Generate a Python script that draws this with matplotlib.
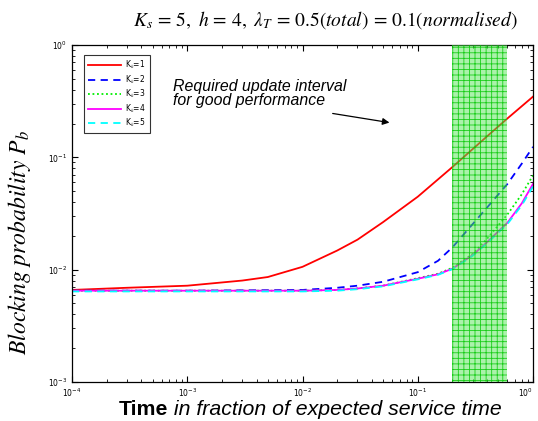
import matplotlib
matplotlib.use("Agg")
import matplotlib.pyplot as plt
import numpy as np

# Data
t_red = [1e-4, 3e-4, 1e-3, 3e-3, 5e-3, 1e-2, 2e-2, 3e-2, 5e-2, 0.1, 0.2, 0.4, 0.6, 1.0]
pb_k1 = [0.0066, 0.0069, 0.0072, 0.0080, 0.0086, 0.0106, 0.0148, 0.0185, 0.0265, 0.0446, 0.082, 0.154, 0.222, 0.347]

t = [1e-4, 1e-3, 1e-2, 2e-2, 3e-2, 5e-2, 0.1, 0.15, 0.2, 0.3, 0.4, 0.6, 0.8, 1.0]
pb_k2 = [0.0065, 0.0065, 0.0066, 0.0069, 0.0072, 0.0078, 0.0095, 0.0120, 0.0158, 0.0255, 0.0358, 0.058, 0.088, 0.124]
pb_k3 = [0.0065, 0.0065, 0.0065, 0.0066, 0.0068, 0.0072, 0.0084, 0.0092, 0.0104, 0.0138, 0.0189, 0.031, 0.047, 0.069]
pb_k4 = [0.0065, 0.0065, 0.0065, 0.0066, 0.0068, 0.0072, 0.0083, 0.0091, 0.0102, 0.0135, 0.0176, 0.0262, 0.039, 0.058]
pb_k5 = [0.0064, 0.0064, 0.0064, 0.0065, 0.0067, 0.0071, 0.0082, 0.0090, 0.0101, 0.0133, 0.0172, 0.0255, 0.0375, 0.055]

labels = [r"K$_k$=1", r"K$_k$=2", r"K$_k$=3", r"K$_k$=4", r"K$_k$=5"]
span = (0.2, 0.6)

plt.rcParams['mathtext.fontset'] = 'stix'
plt.rcParams['hatch.linewidth'] = 0.6

fig = plt.figure(figsize=(5.38, 4.21), dpi=100)
ax = fig.add_axes([72/538, 1-382/421, (533-72)/538, (382-45)/421])

ax.plot(t_red, pb_k1, color='#ff0000', lw=1.3, ls='-', label=labels[0])
ax.plot(t, pb_k2, color='#0000ff', lw=1.3, ls=(0, (4, 3)), label=labels[1])
ax.plot(t, pb_k3, color='#00ee00', lw=1.3, ls=(0, (1, 1.5)), label=labels[2])
ax.plot(t, pb_k4, color='#ff00ff', lw=1.3, ls='-', label=labels[3])
ax.plot(t, pb_k5, color='#00ffff', lw=1.3, ls=(0, (4, 3)), label=labels[4])

ax.axvspan(span[0], span[1], facecolor=(0.35, 0.9, 0.35, 0.5), edgecolor=(0.0, 0.78, 0.0, 0.85),
           hatch='+++', lw=0, zorder=5)

ax.set_xscale('log')
ax.set_yscale('log')
ax.set_xlim(1e-4, 1)
ax.set_ylim(1e-3, 1)
ax.tick_params(which='both', direction='in', top=True, right=True, labelsize=5.5)
ax.tick_params(which='major', length=4)
ax.tick_params(which='minor', length=2)
for s in ax.spines.values():
    s.set_linewidth(0.9)

leg = ax.legend(loc='upper left', bbox_to_anchor=(0.026, 0.970), fontsize=5.5, frameon=True,
                fancybox=False, edgecolor='black', handlelength=4.3, borderpad=0.5,
                labelspacing=0.3, handletextpad=0.6, borderaxespad=0)
leg.get_frame().set_linewidth(0.8)

ax.text(7.5e-4, 0.50, "Required update interval\nfor good performance", fontsize=11.4,
        style='italic', family='Liberation Sans', ha='left', va='top', linespacing=0.95)
ax.annotate("", xy=(0.06, 0.202), xytext=(0.0173, 0.248),
            arrowprops=dict(arrowstyle='-|>', color='black', lw=0.9, mutation_scale=10))

fig.text(325/538, 1-20/421,
         r"$K_s\,=\,5,\ h\,=\,4,\ \lambda_T\,=\,0.5(total)\,=\,0.1(normalised)$",
         fontsize=14, ha='center', va='center')

fig.text(20/538, 1-243/421, r"$Blocking\ probability\ P_b$", fontsize=17,
         rotation=90, ha='center', va='center')

fig.canvas.draw()
r = fig.canvas.get_renderer()

# last x tick label shifted so it is not cut at the figure edge
for lab in ax.get_xticklabels():
    if lab.get_position()[0] >= 0.99:
        lab.set_horizontalalignment('right')

# x label in two styles
ybase = 1 - 415/421
t1 = fig.text(0, ybase, "Time", fontsize=15.3, weight='bold', family='Liberation Sans', va='baseline')
t2 = fig.text(0, ybase, " in fraction of expected service time", fontsize=15.3, style='italic',
              family='Liberation Sans', va='baseline')
w1 = t1.get_window_extent(r).width
w2 = t2.get_window_extent(r).width
x0 = 310 - (w1 + w2) / 2
t1.set_x(x0 / 538)
t2.set_x((x0 + w1) / 538)

fig.savefig("out.png", dpi=100)
